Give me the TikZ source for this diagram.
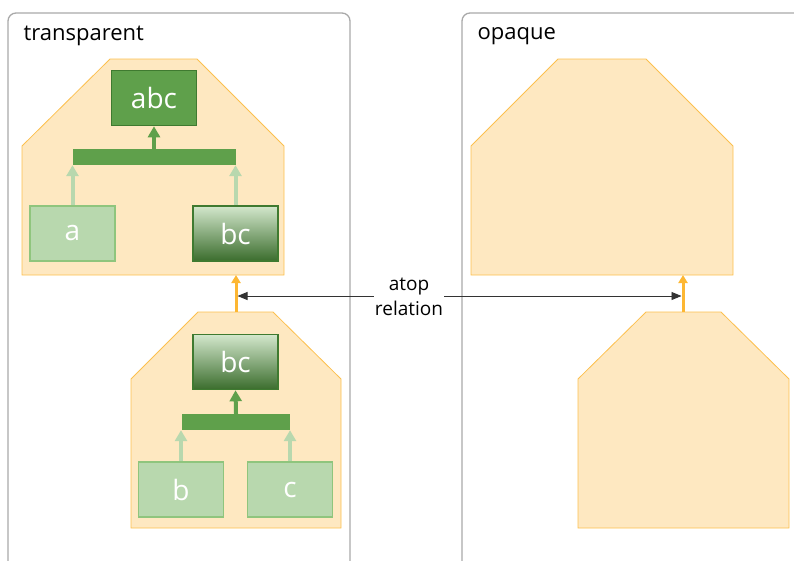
\documentclass[tikz,border=0pt]{standalone}
\usepackage{fontspec}
\setmainfont{Open Sans}
\usetikzlibrary{arrows.meta}

\definecolor{housefill}{HTML}{FEE8C1}
\definecolor{houseline}{HTML}{FCC04E}
\definecolor{linkorange}{HTML}{FDB733}
\definecolor{greendark}{HTML}{5FA04B}
\definecolor{greenline}{HTML}{3F7A30}
\definecolor{greenlight}{HTML}{B8D8AE}
\definecolor{greenlightline}{HTML}{8FC57D}
\definecolor{gradtop}{HTML}{D3E7CC}
\definecolor{gradbot}{HTML}{3B6D2D}
\definecolor{panelgray}{HTML}{A9A9A9}

\tikzset{
  panel/.style={draw=panelgray, line width=1.3pt, rounded corners=8pt},
  title/.style={anchor=west, font=\fontsize{22}{26}\selectfont},
  house/.style={draw=houseline, fill=housefill, line width=0.8pt},
  gbox/.style={minimum width=85pt, minimum height=55pt, inner sep=0pt,
    line width=1.6pt, text=white, font=\fontsize{28}{32}\selectfont},
  leaf/.style={gbox, draw=greenlightline, fill=greenlight},
  sum/.style={gbox, draw=greenline, fill=greendark},
  part/.style={gbox, draw=greenline, top color=gradtop, bottom color=gradbot},
  bar/.style={fill=greendark, inner sep=0pt, minimum height=16pt},
  uparrow/.style={line width=4pt, -{Triangle[width=12pt,length=11pt]}},
  link/.style={linkorange, line width=3pt, -{Triangle[width=9pt,length=8pt]}},
  rel/.style={black!80, line width=0.9pt, -{Triangle[width=8pt,length=10pt]}}
}

\begin{document}
\begin{tikzpicture}[x=1pt,y=-1pt]
\useasboundingbox (0,0) rectangle (794,560);
\clip (0,0) rectangle (794,560);

\draw[panel] (8,13) rectangle (350,590);
\draw[panel] (462,13) rectangle (820,590);
\node[title] (ttrans) at (20,36) {transparent};
\node[title] (topaque) at (474,36) {opaque};

% left side
\draw[house] (110,59) -- (197,59) -- (284,146) -- (284,275) -- (22,275) -- (22,146) -- cycle;
\draw[house] (198,312) -- (273,312) -- (341,379) -- (341,528) -- (131,528) -- (131,379) -- cycle;
\coordinate (hA) at (236,275);
\coordinate (hB) at (236,312);

\node[sum] (abc) at (154,98) {abc};
\node[bar, minimum width=163pt] (bar1) at (154.5,157) {};
\node[leaf] (a) at (72.5,233.5) {a};
\node[part] (bc1) at (235.5,233.5) {bc};

\node[part] (bc2) at (235.5,362) {bc};
\node[bar, minimum width=108pt] (bar2) at (236,422) {};
\node[leaf] (b) at (181,489.5) {b};
\node[leaf] (c) at (290,489.5) {c};

\draw[uparrow, greenlight] (a.north) -- (a.north |- bar1.south);
\draw[uparrow, greenlight] (bc1.north) -- (bc1.north |- bar1.south);
\draw[uparrow, greendark] (abc.south |- bar1.north) -- (abc.south);
\draw[uparrow, greenlight] (b.north) -- (b.north |- bar2.south);
\draw[uparrow, greenlight] (c.north) -- (c.north |- bar2.south);
\draw[uparrow, greendark] (bar2.north) -- (bc2.south);

% right side
\draw[house] (558,59) -- (646,59) -- (733,146) -- (733,275) -- (471,275) -- (471,146) -- cycle;
\draw[house] (646,312) -- (721,312) -- (789,379) -- (789,528) -- (578,528) -- (578,379) -- cycle;
\coordinate (hC) at (683,275);
\coordinate (hD) at (683,312);

\draw[link] (hB) -- (hA);
\draw[link] (hD) -- (hC);

\node[align=center, inner sep=1pt, font=\fontsize{19}{25}\selectfont] (atop) at (409,297) {atop\\relation};
\coordinate (relL) at (237.5,296);
\coordinate (relR) at (681.5,296);
\draw[rel] (atop.west |- relL) -- (relL);
\draw[rel] (atop.east |- relR) -- (relR);

\end{tikzpicture}
\end{document}
